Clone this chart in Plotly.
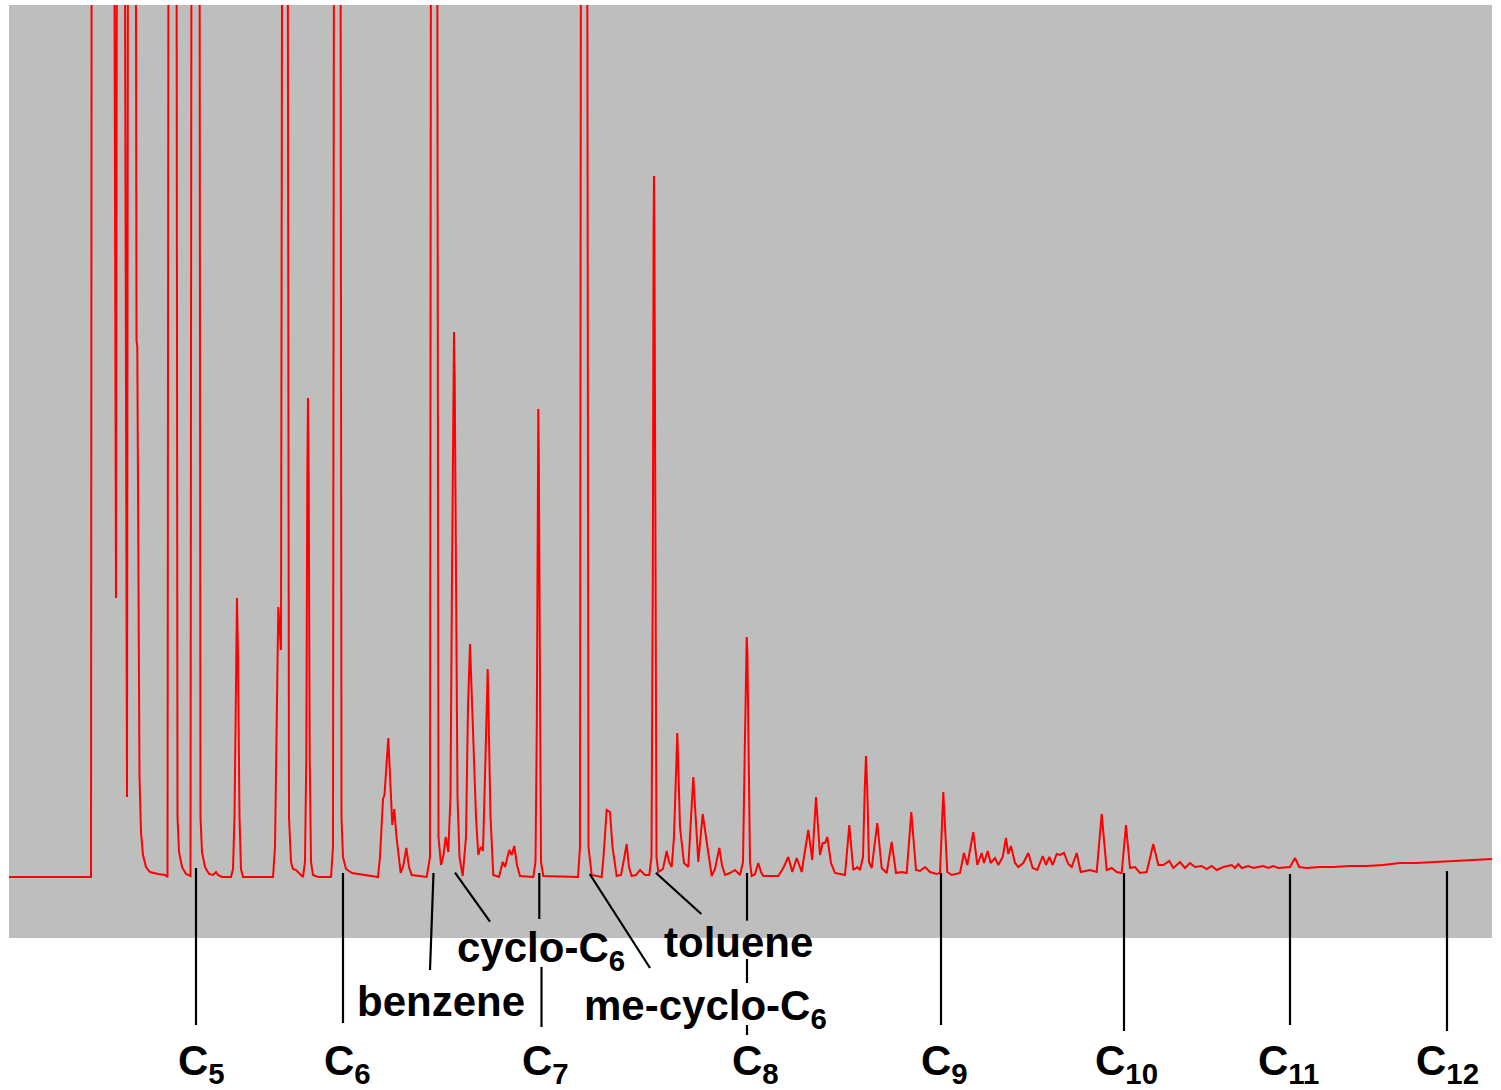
import plotly.graph_objects as go

# ---- chromatogram trace (scan number vs detector signal) ----
scan = [9, 91, 92, 113, 116, 117.5, 123.5, 127, 128.5, 135, 136.5, 137.3, 139.5, 141, 143, 146, 150, 158, 165,
        167.5, 169, 176, 177.5, 179, 182, 186, 190.5, 192, 199, 200.5, 202, 205, 209, 213, 216, 218, 222,
        231, 233, 234.5, 236, 237, 238, 239.5, 241, 243, 273, 275, 278.3, 281, 283, 287, 289, 291, 293, 296,
        300, 303, 305, 306.3, 307.3, 308, 308.7, 309.7, 311,
        313, 318, 331, 333, 334.5, 340, 341.5, 343, 346, 352, 365, 378, 380, 383, 384.5, 388.3, 392.3, 394.3,
        396.5, 400.7, 403.5, 406.3, 409, 411.7, 426.7, 430, 431.5, 436.5, 438.5, 441, 443.5, 445.7, 448.3,
        450.5, 452, 453.3, 454, 454.7, 456, 457.5, 459.5, 462.7, 466, 468, 470, 473, 476, 478.3, 480, 481.7,
        483, 485, 487.7, 490.5, 493.3,
        499, 502.7, 505, 509.3, 511.7, 514.3, 517, 520, 533.3, 535.5, 536.8, 537.8, 538.3, 538.8, 539.8, 541,
        543.3, 578, 580, 581.5,
        586.5, 588.5, 591.7, 601.7, 603.5, 606.7, 610, 612.5, 616.7, 621, 623.5, 626.7, 629, 631.7, 636,
        640, 645, 649.3, 651.5, 652.8, 653.6, 654, 654.4, 655.2, 656.5, 658.3, 663, 666.7, 669, 671.7, 674,
        677.3, 680, 684, 688.3,
        693.3, 698.3, 702.7, 706.7, 711.7, 715, 719.3, 722, 725, 730, 735, 740, 743, 745, 746, 746.7, 747.4,
        748.4, 750, 751.7,
        755, 758.3, 761, 763.3, 778.3, 783.3, 788.3, 792.3, 796.7, 801.7, 808.3, 812.3, 816, 820, 822.7,
        825, 827.3, 831, 835, 845, 849.3, 853.3, 857.3, 860, 863, 864.8, 866, 867.2, 869, 871.7, 877.3, 881.7,
        886.7, 891.7, 896,
        901.7, 906.7, 911.3, 916, 920, 925, 930, 936.7, 940, 943.3, 947.3, 951.7, 960, 964, 967.3, 973.3,
        977.3, 981.7, 984, 987.7, 990.7, 995, 998.3, 1002.7, 1006, 1008.3, 1011, 1015, 1018.3, 1023.3,
        1028.3, 1032.7, 1037.3, 1042.7, 1046, 1049.3, 1052.7, 1056.7, 1060, 1064, 1068.3, 1071.7, 1076.7,
        1080.7, 1090, 1096.7, 1101.7, 1106.7, 1111.7, 1116.7, 1121.7, 1126, 1130, 1135, 1140, 1146.7,
        1153.3, 1158.3, 1163.3, 1169.3, 1173.3, 1180, 1185, 1190, 1195, 1201.7, 1206.7, 1211.7, 1216.7,
        1223.3, 1231.7, 1235, 1238.3, 1241.7, 1248.3, 1253.3, 1263.3, 1268.3, 1273.3, 1278.3, 1290, 1295,
        1299.3, 1306.7, 1320, 1333.3, 1350, 1366.7, 1383, 1400, 1416, 1433.3, 1450, 1466.7, 1480, 1492]
signal = [0, 0, 1500, 1500, 279, 1500, 1500, 80, 1500, 1500, 537, 530, 100, 45, 22, 10, 5, 3, 2,
          0, 1500, 1500, 60, 25, 10, 3, 1, 1500, 1500, 60, 25, 10, 3, 2, 5, 2, 0,
          0, 8, 60, 220, 279, 220, 60, 8, 0, 0, 30, 270, 227, 1500, 1500, 60, 15, 8, 7,
          3, 0, 15, 120, 400, 479, 400, 120, 15,
          2, 0, 0, 30, 1500, 1500, 60, 20, 8, 4, 2, 0, 20, 78, 82, 139, 52, 68,
          40, 4, 12, 29, 10, 2, 0, 20, 1500, 1500, 40, 12, 22, 40, 25,
          80, 300, 500, 545, 500, 300, 80, 20, 1, 40, 170, 233, 150, 60, 22, 28, 30,
          26, 100, 208, 60, 2,
          0, 15, 10, 27, 22, 31, 12, 1, 0, 15, 150, 420, 468, 420, 150, 15,
          1, 0, 30, 1500,
          1500, 30, 2, 0, 20, 67, 65, 30, 1, 2, 15, 33, 10, 1, 2,
          7, 2, 2, 20, 300, 650, 701, 650, 300, 20, 5, 8, 26, 15, 10, 40,
          144, 50, 14, 10,
          100, 15, 63, 37, 1, 8, 29, 12, 2, 4, 7, 2, 15, 140, 225, 240, 225,
          140, 15, 1,
          3, 14, 5, 1, 1, 9, 20, 5, 19, 5, 47, 17, 80, 22, 34,
          34, 40, 14, 4, 2, 52, 7, 10, 7, 20, 90, 121, 90, 15, 9, 54, 9,
          4, 35, 4,
          5, 4, 65, 7, 6, 10, 5, 3, 4, 85, 5, 2, 4, 24, 12, 45,
          12, 24, 14, 26, 14, 19, 12, 20, 39, 23, 31, 14, 10, 14,
          24, 9, 7, 21, 12, 20, 12, 23, 22, 24, 13, 10, 24,
          5, 7, 5, 63, 7, 9, 5, 4, 52, 9, 10, 4, 5,
          33, 12, 12, 16, 9, 15, 9, 14, 10, 11, 8, 11, 7,
          10, 12, 9, 13, 9, 11, 9, 11, 9, 11, 9, 10, 19,
          10, 9, 10, 10, 11, 11, 12, 14, 14, 15, 16, 17, 18, 18]

# ---- peak identifications ----
alkane_names = ["C<sub>5</sub>", "C<sub>6</sub>", "C<sub>7</sub>", "C<sub>8</sub>",
                "C<sub>9</sub>", "C<sub>10</sub>", "C<sub>11</sub>", "C<sub>12</sub>"]
alkane_scans = [196, 343, 540, 747, 941, 1124, 1290, 1447]
other_names = ["benzene", "cyclo-C<sub>6</sub>", "me-cyclo-C<sub>6</sub>", "toluene"]
other_scans = [433.5, 455, 589.7, 655.8]

# ---- layout helpers (pixel -> paper) ----
W, H = 1501, 1090
PL, PR, PT, PB = 9, 1492, 5, 938


def py(v):
    return (PB - v) / (PB - PT)


fig = go.Figure()
fig.add_trace(go.Scatter(x=scan, y=signal, mode="lines",
                         line=dict(color="#ff0000", width=2), hoverinfo="skip",
                         showlegend=False))

BLK = dict(color="black", width=2.2)
shapes = []


def seg(x0, y0, x1, y1):
    shapes.append(dict(type="line", xref="x", yref="paper", x0=x0, x1=x1,
                       y0=py(y0), y1=py(y1), line=BLK, layer="above"))


# alkane leader lines (some are interrupted by other labels)
seg(alkane_scans[0], 868, alkane_scans[0], 1025)
seg(alkane_scans[1], 873, alkane_scans[1], 1023)
seg(539.3, 873, 539.3, 919)
seg(541.5, 967, 541.5, 1027)
seg(alkane_scans[3], 873, alkane_scans[3], 920.7)
seg(alkane_scans[3], 959, alkane_scans[3], 983)
seg(alkane_scans[3], 1025, alkane_scans[3], 1035)
seg(alkane_scans[4], 873, alkane_scans[4], 1025)
seg(alkane_scans[5], 873, alkane_scans[5], 1031)
seg(alkane_scans[6], 874, alkane_scans[6], 1025)
seg(alkane_scans[7], 871, alkane_scans[7], 1031)
# other compounds (slanted leaders)
seg(other_scans[0], 873, 430, 970)
seg(other_scans[1], 872.7, 490, 921.7)
seg(other_scans[2], 874, 650, 968)
seg(other_scans[3], 872.7, 701.3, 914)

FONT = dict(family="Liberation Sans, Arial, sans-serif", size=42, color="black")
annotations = []


def lab(text, xc, ymid):
    annotations.append(dict(text="<b>" + text + "</b>", x=xc, xref="x", y=py(ymid), yref="paper",
                            xanchor="center", yanchor="middle", showarrow=False, font=FONT))


alk_centers = [201.5, 347, 545, 755, 944, 1126, 1288, 1447.5]
for name, xc in zip(alkane_names, alk_centers):
    lab(name, xc, 1063)
lab(other_names[0], 440.5, 1001)
lab(other_names[1], 541, 951)
lab(other_names[2], 705.5, 1008)
lab(other_names[3], 738, 942)

fig.update_layout(
    width=W, height=H,
    margin=dict(l=PL, r=W - PR, t=PT, b=H - PB, pad=0),
    paper_bgcolor="white", plot_bgcolor="#bebebe",
    xaxis=dict(range=[PL, PR], showgrid=False, zeroline=False, showticklabels=False,
               ticks="", showline=False, fixedrange=True),
    yaxis=dict(range=[-61, 872], showgrid=False, zeroline=False, showticklabels=False,
               ticks="", showline=False, fixedrange=True),
    shapes=shapes, annotations=annotations,
)

fig.write_html("out.html")
